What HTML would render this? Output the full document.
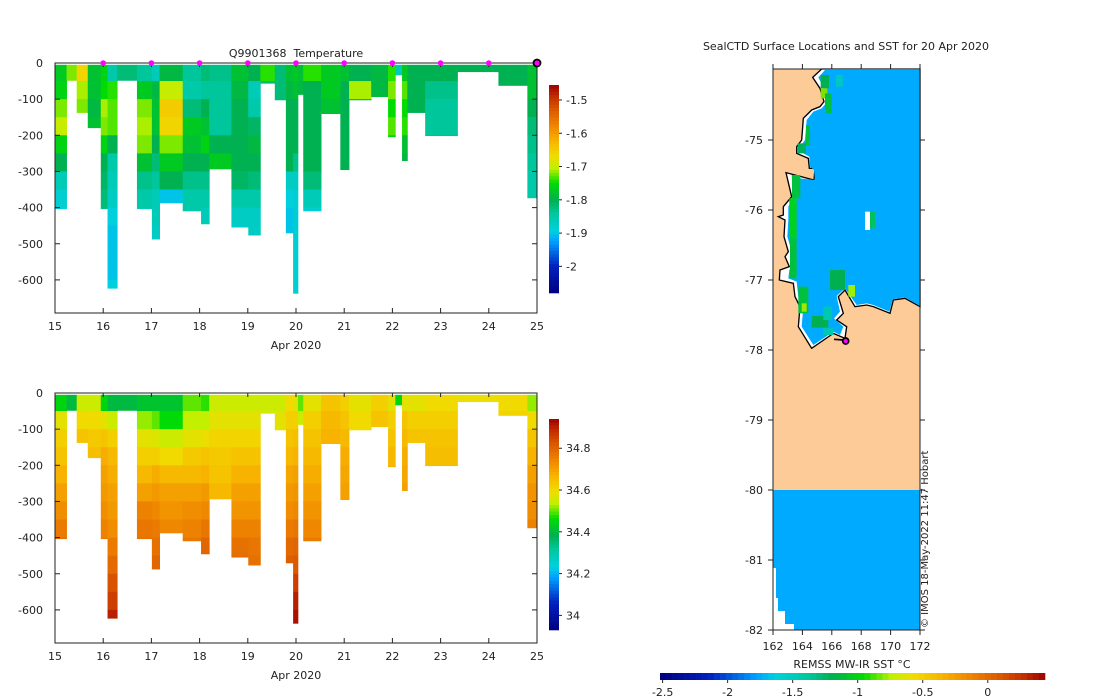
<!DOCTYPE html>
<html><head><meta charset="utf-8"><style>
html,body{margin:0;padding:0;background:#fff;}
svg{display:block;font-family:"DejaVu Sans","Liberation Sans",sans-serif;}
</style></head><body>
<svg id="fig" width="1100" height="700" viewBox="0 0 1100 700" xmlns="http://www.w3.org/2000/svg">
<rect width="1100" height="700" fill="#fff"/>
<g id="top"></g>
<g id="bot"></g>
<g id="map">
  <text x="846" y="50" font-size="11" text-anchor="middle" fill="#222">SealCTD Surface Locations and SST for 20 Apr 2020</text>
  <rect x="773" y="69" width="147" height="561" fill="#fdcb98"/>
  <g transform="translate(730,40) scale(0.33333)">
    <polygon fill="#fff" stroke="#000" stroke-width="4" points="325,87 570,87 570,800 525,775 490,780 480,820 430,800 410,795 375,800 345,750 325,770 340,820 320,840 350,860 345,895 310,880 245,925 205,860 210,800 195,770 190,730 148,720 150,690 178,680 165,650 175,635 162,590 165,540 145,530 160,525 160,500 185,470 168,398 252,420 255,385 238,385 235,355 200,340 200,320 215,300 220,235 245,210 270,200 282,185 270,145 248,112 275,87"/>
    <polygon fill="#00aaff" points="325,90 570,90 570,798 525,772 488,778 478,815 430,795 410,790 380,795 345,745 320,768 330,815 312,835 340,860 330,885 310,875 250,915 215,860 220,800 205,770 200,725 175,715 178,690 185,680 180,650 185,635 172,590 175,540 175,500 190,470 185,405 210,415 255,420 252,390 240,380 238,350 210,335 210,320 225,300 230,240 250,215 275,205 292,185 282,145 265,112 285,90"/>
    <g>
      <rect x="272" y="105" width="25" height="40" fill="#00b050"/>
      <rect x="272" y="145" width="20" height="30" fill="#7fe000"/>
      <rect x="285" y="160" width="20" height="60" fill="#00c040"/>
      <rect x="318" y="105" width="20" height="35" fill="#00c8c0"/>
      <rect x="228" y="255" width="12" height="60" fill="#00c040"/>
      <rect x="203" y="310" width="25" height="30" fill="#00b060"/>
      <rect x="186" y="405" width="25" height="70" fill="#00c040"/>
      <rect x="178" y="475" width="22" height="120" fill="#00d020"/>
      <rect x="180" y="595" width="20" height="120" fill="#00c040"/>
      <rect x="205" y="740" width="30" height="80" fill="#00c040"/>
      <rect x="215" y="790" width="15" height="25" fill="#a0e800"/>
      <rect x="245" y="828" width="50" height="35" fill="#00b050"/>
      <rect x="280" y="800" width="25" height="40" fill="#00c8b0"/>
      <rect x="300" y="690" width="45" height="60" fill="#00b050"/>
      <rect x="355" y="735" width="20" height="35" fill="#a0f000"/>
      <rect x="280" y="865" width="30" height="20" fill="#00c8b0"/>
      <rect x="405" y="515" width="15" height="55" fill="#fff"/>
      <rect x="420" y="515" width="15" height="50" fill="#00c060"/>
    </g>
    <circle cx="347" cy="903" r="9" fill="#ff00ff" stroke="#000" stroke-width="5"/>
    <line x1="312" y1="898" x2="340" y2="900" stroke="#000" stroke-width="5"/>
  </g>
  <rect x="773" y="490" width="147" height="140" fill="#00aaff"/>
  <polygon fill="#fff" points="773,568 776,568 776,598 778,598 778,611 785,611 785,624 794,624 794,630 773,630"/>
  <rect x="773" y="69" width="147" height="561" fill="none" stroke="#222" stroke-width="1"/>
  <g id="mapaxes"></g>
  <text transform="translate(928,628) rotate(-90)" font-size="10" fill="#222">© IMOS 18-May-2022 11:47 Hobart</text>
  <text x="852" y="668" font-size="11" text-anchor="middle" fill="#222">REMSS MW-IR SST °C</text>
  <g id="sstbar"></g>
</g>
</svg>
<script>
var colStart=[15.0,15.24,15.45,15.68,15.95,16.09,16.29,16.70,17.01,17.17,17.65,18.03,18.20,18.66,19.01,19.26,19.56,19.79,19.94,20.04,20.15,20.52,20.92,21.10,21.56,21.91,22.06,22.20,22.31,22.68,23.35,24.20,24.80];
var colEnd=[15.24,15.45,15.68,15.95,16.09,16.29,16.70,17.01,17.17,17.65,18.03,18.20,18.66,19.01,19.26,19.56,19.79,19.94,20.04,20.15,20.52,20.92,21.10,21.56,21.91,22.06,22.20,22.31,22.68,23.35,24.20,24.80,25.0];
var colMaxDepth=[403,48,137,179,403,623,48,403,487,387,409,445,293,454,476,56,102,470,637,87,409,140,295,102,93,204,33,270,137,201,24,62,373];
var tempBins=[
[-1.77,-1.76,-1.72,-1.70,-1.76,-1.80,-1.86,-1.88,-1.89],
[-1.72],
[-1.66,-1.71,-1.72],
[-1.78,-1.78,-1.79,-1.78],
[-1.76,-1.75,-1.71,-1.72,-1.76,-1.80,-1.81,-1.82,-1.83],
[-1.85,-1.74,-1.73,-1.73,-1.80,-1.85,-1.86,-1.87,-1.89,-1.90,-1.90,-1.90,-1.89],
[-1.82],
[-1.84,-1.77,-1.72,-1.71,-1.72,-1.78,-1.83,-1.85,-1.86],
[-1.86,-1.79,-1.78,-1.78,-1.80,-1.82,-1.84,-1.86,-1.86,-1.87],
[-1.79,-1.70,-1.65,-1.66,-1.72,-1.77,-1.80,-1.90],
[-1.84,-1.85,-1.82,-1.77,-1.78,-1.80,-1.83,-1.85,-1.85],
[-1.82,-1.84,-1.80,-1.78,-1.76,-1.80,-1.83,-1.85,-1.86],
[-1.83,-1.84,-1.84,-1.84,-1.80,-1.77],
[-1.78,-1.79,-1.80,-1.80,-1.80,-1.80,-1.81,-1.85,-1.87,-1.88],
[-1.80,-1.86,-1.85,-1.81,-1.79,-1.80,-1.82,-1.85,-1.87,-1.87],
[-1.74,-1.82],
[-1.82,-1.82,-1.82],
[-1.78,-1.79,-1.80,-1.80,-1.80,-1.80,-1.87,-1.89,-1.90,-1.90],
[-1.77,-1.78,-1.80,-1.80,-1.80,-1.83,-1.87,-1.88,-1.88,-1.88,-1.88,-1.88,-1.88],
[-1.78,-1.79],
[-1.74,-1.80,-1.80,-1.80,-1.80,-1.80,-1.82,-1.86,-1.88],
[-1.77,-1.77,-1.78],
[-1.78,-1.80,-1.80,-1.80,-1.80,-1.80],
[-1.80,-1.71,-1.80],
[-1.79,-1.79],
[-1.74,-1.72,-1.75,-1.73,-1.76],
[-1.86],
[-1.77,-1.73,-1.75,-1.74,-1.78,-1.79],
[-1.80,-1.80,-1.80],
[-1.80,-1.83,-1.84,-1.84,-1.83],
[-1.80],
[-1.80,-1.80],
[-1.78,-1.78,-1.80,-1.82,-1.83,-1.84,-1.85,-1.85]];
var salBins=[
[34.45,34.58,34.62,34.64,34.67,34.70,34.73,34.76,34.78],
[34.40],
[34.55,34.60,34.64],
[34.55,34.60,34.63,34.65],
[34.45,34.58,34.64,34.68,34.70,34.71,34.73,34.75,34.76],
[34.40,34.55,34.62,34.66,34.68,34.70,34.71,34.73,34.76,34.79,34.83,34.86,34.90],
[34.40],
[34.42,34.52,34.58,34.62,34.66,34.70,34.75,34.77,34.78],
[34.42,34.50,34.57,34.62,34.68,34.71,34.74,34.76,34.78,34.80],
[34.42,34.46,34.55,34.60,34.66,34.70,34.72,34.74],
[34.50,34.54,34.58,34.63,34.66,34.70,34.73,34.75,34.77],
[34.48,34.54,34.59,34.64,34.67,34.71,34.74,34.77,34.80],
[34.55,34.58,34.61,34.63,34.64,34.66],
[34.55,34.58,34.61,34.64,34.67,34.70,34.72,34.75,34.78,34.79],
[34.55,34.58,34.61,34.64,34.67,34.70,34.72,34.75,34.77,34.78],
[34.55,34.57],
[34.55,34.58,34.59],
[34.60,34.62,34.64,34.66,34.69,34.71,34.73,34.76,34.79,34.81],
[34.58,34.62,34.65,34.67,34.70,34.72,34.74,34.77,34.80,34.82,34.86,34.90,34.92],
[34.50,34.55],
[34.58,34.62,34.64,34.66,34.68,34.70,34.72,34.74,34.76],
[34.64,34.66,34.67],
[34.62,34.64,34.66,34.68,34.69,34.70],
[34.58,34.60,34.60],
[34.62,34.64],
[34.58,34.62,34.64,34.66,34.67],
[34.45],
[34.58,34.64,34.66,34.68,34.69,34.70],
[34.58,34.62,34.64],
[34.60,34.62,34.64,34.65,34.66],
[34.59],
[34.60,34.61],
[34.52,34.60,34.64,34.67,34.70,34.72,34.73,34.75]];
var dayTicks=[15,16,17,18,19,20,21,22,23,24,25];
var depthTicks=[0,-100,-200,-300,-400,-500,-600];
var surfaceDays=[16,17,18,19,20,21,22,23,24];
var tempTicks=[-1.5,-1.6,-1.7,-1.8,-1.9,-2];
var salTicks=[34.8,34.6,34.4,34.2,34];
var sstTicks=[-2.5,-2,-1.5,-1,-0.5,0];
var lonTicks=[162,164,166,168,170,172];
var latTicks=[-75,-76,-77,-78,-79,-80,-81,-82];

var NS='http://www.w3.org/2000/svg';
function mk(tag,parent){var e=document.createElementNS(NS,tag);parent.appendChild(e);return e;}
var stops=[[0,[0,0,127]],[0.13,[0,32,192]],[0.25,[0,160,255]],[0.3,[0,208,224]],[0.38,[0,200,160]],[0.45,[0,176,80]],[0.53,[0,221,0]],[0.6,[192,240,0]],[0.66,[240,220,0]],[0.73,[248,180,0]],[0.8,[240,136,0]],[0.88,[220,90,0]],[0.94,[196,50,0]],[1,[160,0,0]]];
function cmap(f){f=Math.max(0,Math.min(1,f));for(var i=1;i<stops.length;i++){if(f<=stops[i][0]){var a=stops[i-1],b=stops[i],t=(f-a[0])/(b[0]-a[0]);var c=[0,1,2].map(function(k){return Math.round(a[1][k]+t*(b[1][k]-a[1][k]));});return 'rgb('+c.join(',')+')';}}return 'rgb(160,0,0)';}

function section(g,y0,yBot,vals,vmin,vmax,cbTop,cbBot,ticks,isTop){
  var x0=55,x1=537;
  function xs(d){return x0+(d-15)*(x1-x0)/10;}
  function ys(dep){return y0+dep*0.3615;}
  for(var i=0;i<colStart.length;i++){
    var nb=Math.ceil(colMaxDepth[i]/50);
    for(var b=0;b<nb;b++){
      var top=Math.max(5,b*50),bot=Math.min(colMaxDepth[i],(b+1)*50);
      if(bot<=top)continue;
      var v=vals[i][Math.min(b,vals[i].length-1)];
      var r=mk('rect',g);
      
      
      r.setAttribute('x',xs(colStart[i]));r.setAttribute('width',xs(colEnd[i])-xs(colStart[i])+0.4);
      r.setAttribute('y',ys(top));r.setAttribute('height',ys(bot)-ys(top)+0.4);
      r.setAttribute('fill',cmap((v-vmin)/(vmax-vmin)));
    }
  }
  var fr=mk('rect',g);
  
  
  fr.setAttribute('x',x0);fr.setAttribute('y',y0);fr.setAttribute('width',x1-x0);fr.setAttribute('height',yBot-y0);
  fr.setAttribute('fill','none');fr.setAttribute('stroke','#222');
  dayTicks.forEach(function(d){
    var X=xs(d);
    var l=mk('line',g);l.setAttribute('x1',X);l.setAttribute('x2',X);l.setAttribute('y1',yBot);l.setAttribute('y2',yBot-5);l.setAttribute('stroke','#222');
    var l2=mk('line',g);l2.setAttribute('x1',X);l2.setAttribute('x2',X);l2.setAttribute('y1',y0);l2.setAttribute('y2',y0+4);l2.setAttribute('stroke','#222');
    var t=mk('text',g);
    
    
    t.setAttribute('x',X);t.setAttribute('y',yBot+17);t.setAttribute('font-size','11');t.setAttribute('text-anchor','middle');t.setAttribute('fill','#222');t.textContent=d;
  });
  depthTicks.forEach(function(d){
    var Y=ys(-d);
    var l=mk('line',g);l.setAttribute('x1',x0);l.setAttribute('x2',x0+5);l.setAttribute('y1',Y);l.setAttribute('y2',Y);l.setAttribute('stroke','#222');
    var l2=mk('line',g);l2.setAttribute('x1',x1);l2.setAttribute('x2',x1-5);l2.setAttribute('y1',Y);l2.setAttribute('y2',Y);l2.setAttribute('stroke','#222');
    var t=mk('text',g);
    
    
    t.setAttribute('x',43);t.setAttribute('y',Y+4);t.setAttribute('font-size','11');t.setAttribute('text-anchor','end');t.setAttribute('fill','#222');t.textContent=d;
  });
  var xl=mk('text',g);
  
  
  xl.setAttribute('x',296);xl.setAttribute('y',yBot+36);xl.setAttribute('font-size','11');xl.setAttribute('text-anchor','middle');xl.setAttribute('fill','#222');xl.textContent='Apr 2020';
  var cb=mk('g',g);
  
  
  var nn=64,h=(cbBot-cbTop)/nn;
  for(var k=0;k<nn;k++){
    var r=mk('rect',cb);
    r.setAttribute('x',549);r.setAttribute('width',10);r.setAttribute('y',cbBot-(k+1)*h);r.setAttribute('height',h+0.3);
    r.setAttribute('fill',cmap((k+0.5)/nn));
  }
  ticks.forEach(function(v){
    var Y=cbBot-(v-vmin)/(vmax-vmin)*(cbBot-cbTop);
    var l=mk('line',cb);l.setAttribute('x1',559);l.setAttribute('x2',562);l.setAttribute('y1',Y);l.setAttribute('y2',Y);l.setAttribute('stroke','#222');
    var t=mk('text',cb);
    
    
    t.setAttribute('x',566);t.setAttribute('y',Y+4);t.setAttribute('font-size','11');t.setAttribute('fill','#222');t.textContent=String(v);
  });
  if(isTop){
    var tt=mk('text',g);
    
    
    tt.setAttribute('x',296);tt.setAttribute('y',57);tt.setAttribute('font-size','11');tt.setAttribute('text-anchor','middle');tt.setAttribute('fill','#222');tt.textContent='Q9901368\u00a0 Temperature';
    surfaceDays.forEach(function(d){
      var c=mk('circle',g);
      
      
      c.setAttribute('cx',xs(d));c.setAttribute('cy',y0);c.setAttribute('r',2.8);c.setAttribute('fill','#ff00ff');
    });
    var c2=mk('circle',g);
    
    
    c2.setAttribute('cx',xs(25));c2.setAttribute('cy',y0);c2.setAttribute('r',3.5);c2.setAttribute('fill','#ff00ff');c2.setAttribute('stroke','#000');c2.setAttribute('stroke-width','1.8');
  }
}
section(document.getElementById('top'),63,313,tempBins,-2.08,-1.455,85,293,tempTicks,true);
section(document.getElementById('bot'),393,643,salBins,33.93,34.94,419,630,salTicks,false);

var ma=document.getElementById('mapaxes');
function lonX(l){return 773+(l-162)*14.7;}
function latY(l){return 140+(-75-l)*70;}
lonTicks.forEach(function(l){
  var X=lonX(l);
  var a=mk('line',ma);a.setAttribute('x1',X);a.setAttribute('x2',X);a.setAttribute('y1',630);a.setAttribute('y2',635);a.setAttribute('stroke','#222');
  var b=mk('line',ma);b.setAttribute('x1',X);b.setAttribute('x2',X);b.setAttribute('y1',69);b.setAttribute('y2',64);b.setAttribute('stroke','#222');
  var t=mk('text',ma);
  
  
  t.setAttribute('x',X);t.setAttribute('y',650);t.setAttribute('font-size','11');t.setAttribute('text-anchor','middle');t.setAttribute('fill','#222');t.textContent=l;
});
latTicks.forEach(function(l){
  var Y=latY(l);
  var a=mk('line',ma);a.setAttribute('x1',768);a.setAttribute('x2',773);a.setAttribute('y1',Y);a.setAttribute('y2',Y);a.setAttribute('stroke','#222');
  var b=mk('line',ma);b.setAttribute('x1',920);b.setAttribute('x2',925);b.setAttribute('y1',Y);b.setAttribute('y2',Y);b.setAttribute('stroke','#222');
  var t=mk('text',ma);
  
  
  t.setAttribute('x',763);t.setAttribute('y',Y+4);t.setAttribute('font-size','11');t.setAttribute('text-anchor','end');t.setAttribute('fill','#222');t.textContent=l;
});
var sb=document.getElementById('sstbar');
var smin=-2.52,smax=0.44,sx0=660,sx1=1045,sn=64,sw=(sx1-sx0)/sn;
for(var k=0;k<sn;k++){
  var r=mk('rect',sb);
  r.setAttribute('x',sx0+k*sw);r.setAttribute('width',sw+0.3);r.setAttribute('y',673);r.setAttribute('height',7);
  r.setAttribute('fill',cmap((k+0.5)/sn));
}
sstTicks.forEach(function(v){
  var X=sx0+(v-smin)/(smax-smin)*(sx1-sx0);
  var l=mk('line',sb);l.setAttribute('x1',X);l.setAttribute('x2',X);l.setAttribute('y1',680);l.setAttribute('y2',683);l.setAttribute('stroke','#222');
  var t=mk('text',sb);
  
  
  t.setAttribute('x',X);t.setAttribute('y',696);t.setAttribute('font-size','11');t.setAttribute('text-anchor','middle');t.setAttribute('fill','#222');t.textContent=v;
});
</script>
</body></html>
